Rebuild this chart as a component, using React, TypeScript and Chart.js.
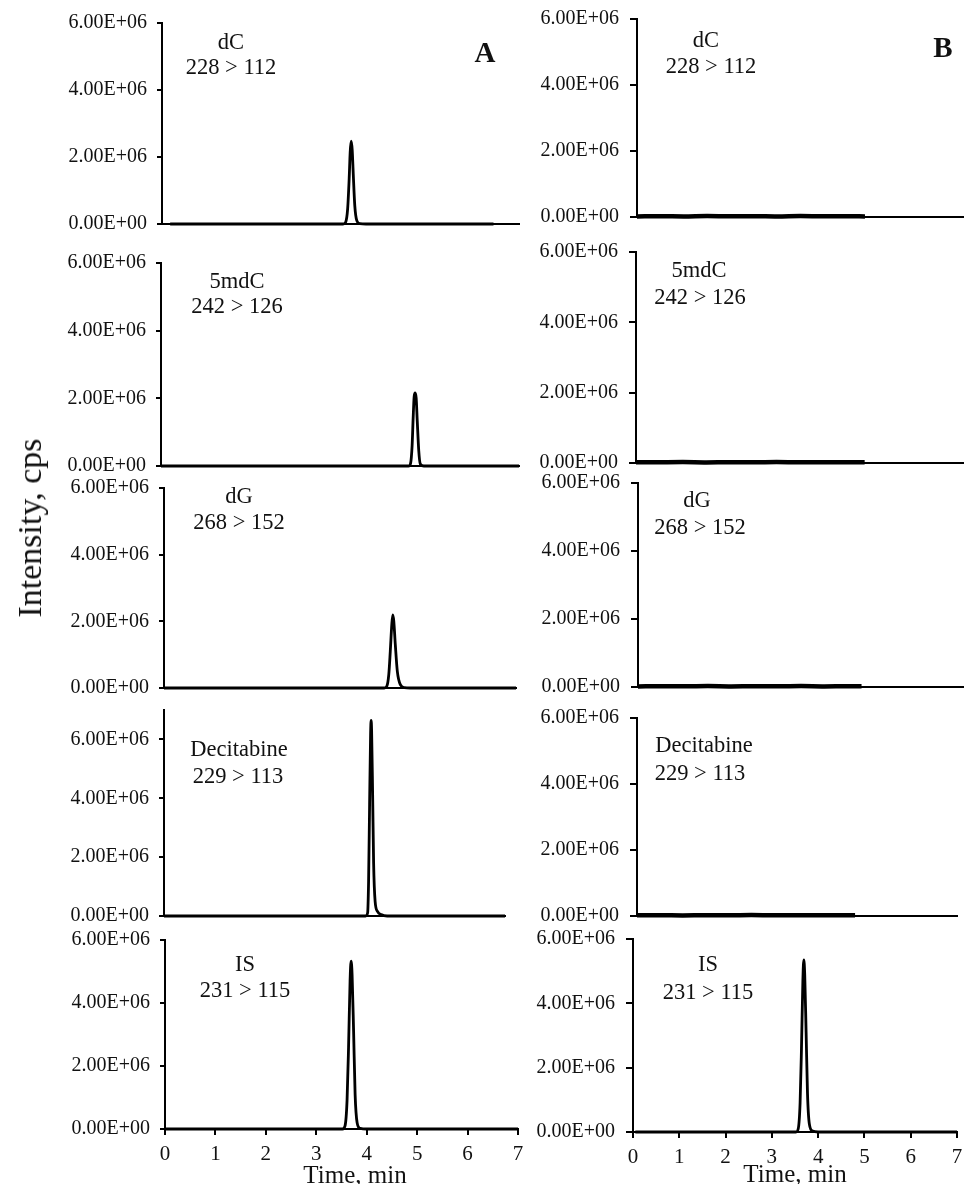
import React, { useEffect, useRef } from 'react';
import { Chart, registerables } from 'chart.js';

Chart.register(...registerables);

const FONT = "'Liberation Serif', 'Times New Roman', serif";

// ---------- Data (time in min, intensity in cps) ----------
const compounds = ['dC', '5mdC', 'dG', 'Decitabine', 'IS'];
const transitions = ['228 > 112', '242 > 126', '268 > 152', '229 > 113', '231 > 115'];
const xTickValues = [0, 1, 2, 3, 4, 5, 6, 7];
const yTickValues = [0, 2000000, 4000000, 6000000];

// Column A
const dC_A_time = [0.16, 3.55, 3.6, 3.64, 3.67, 3.69, 3.71, 3.73, 3.75, 3.78, 3.82, 3.88, 4.0, 6.5];
const dC_A_int = [0, 0, 50000, 450000, 1350000, 2150000, 2470000, 2200000, 1500000, 550000, 100000, 10000, 0, 0];

const mdC_A_time = [0.0, 4.84, 4.88, 4.91, 4.93, 4.95, 4.97, 4.99, 5.01, 5.04, 5.07, 5.14, 7.0];
const mdC_A_int = [0, 0, 80000, 600000, 1400000, 2050000, 2160000, 2000000, 1350000, 450000, 60000, 0, 0];

const dG_A_time = [0.0, 4.38, 4.43, 4.47, 4.5, 4.53, 4.55, 4.57, 4.6, 4.64, 4.7, 4.78, 4.9, 7.0];
const dG_A_int = [0, 0, 50000, 400000, 1100000, 1900000, 2190000, 2000000, 1300000, 500000, 100000, 10000, 0, 0];

const dec_A_time = [0.0, 4.02, 4.06, 4.08, 4.1, 4.12, 4.13, 4.14, 4.16, 4.18, 4.21, 4.26, 4.33, 4.45, 6.8];
const dec_A_int = [0, 0, 100000, 1200000, 3800000, 6200000, 6650000, 6300000, 4200000, 1800000, 500000, 150000, 50000, 0, 0];

const is_A_time = [0.0, 3.52, 3.57, 3.61, 3.64, 3.67, 3.69, 3.71, 3.74, 3.77, 3.81, 3.87, 4.0, 7.0];
const is_A_int = [0, 0, 100000, 900000, 2600000, 4700000, 5330000, 4900000, 3100000, 1100000, 200000, 20000, 0, 0];

// Column B (blank sample: only baseline noise, IS peak)
const dC_B_time = [0.0, 0.5, 1.0, 1.5, 2.0, 2.5, 3.0, 3.5, 4.0, 4.5, 4.88];
const dC_B_int = [15000, 25000, 18000, 30000, 20000, 26000, 17000, 28000, 21000, 24000, 16000];

const mdC_B_time = [0.0, 0.5, 1.0, 1.5, 2.0, 2.5, 3.0, 3.5, 4.0, 4.5, 4.88];
const mdC_B_int = [18000, 22000, 26000, 17000, 24000, 20000, 27000, 19000, 23000, 21000, 18000];

const dG_B_time = [0.0, 0.5, 1.0, 1.5, 2.0, 2.5, 3.0, 3.5, 4.0, 4.5, 4.8];
const dG_B_int = [16000, 24000, 20000, 27000, 18000, 25000, 21000, 26000, 17000, 23000, 19000];

const dec_B_time = [0.0, 0.5, 1.0, 1.5, 2.0, 2.5, 3.0, 3.5, 4.0, 4.5, 4.77];
const dec_B_int = [20000, 26000, 18000, 24000, 22000, 28000, 19000, 25000, 21000, 23000, 20000];

const is_B_time = [0.05, 3.52, 3.57, 3.61, 3.64, 3.67, 3.69, 3.71, 3.74, 3.77, 3.81, 3.88, 4.0, 7.0];
const is_B_int = [0, 0, 100000, 900000, 2600000, 4700000, 5350000, 4900000, 3100000, 1200000, 250000, 30000, 0, 0];

// ---------- Layout (page pixels) ----------
type PanelCfg = {
  col: 'A' | 'B';
  time: number[];
  intensity: number[];
  lineWidth: number;
  axisX: number;
  right: number;
  top: number;
  zero: number;
  xMax: number;
  yMax: number;
  showX: boolean;
};

const panels: PanelCfg[] = [
  { col: 'A', time: dC_A_time, intensity: dC_A_int, lineWidth: 2.8, axisX: 162, right: 519, top: 23, zero: 224, xMax: 7, yMax: 6000000, showX: false },
  { col: 'A', time: mdC_A_time, intensity: mdC_A_int, lineWidth: 2.8, axisX: 161, right: 519, top: 263, zero: 466, xMax: 7, yMax: 6000000, showX: false },
  { col: 'A', time: dG_A_time, intensity: dG_A_int, lineWidth: 2.8, axisX: 164, right: 516, top: 488, zero: 688, xMax: 7, yMax: 6000000, showX: false },
  { col: 'A', time: dec_A_time, intensity: dec_A_int, lineWidth: 2.8, axisX: 164, right: 505, top: 710, zero: 916, xMax: 6.8, yMax: 7000000, showX: false },
  { col: 'A', time: is_A_time, intensity: is_A_int, lineWidth: 2.8, axisX: 165, right: 518, top: 940, zero: 1129, xMax: 7, yMax: 6000000, showX: true },
  { col: 'B', time: dC_B_time, intensity: dC_B_int, lineWidth: 4.5, axisX: 637, right: 964, top: 19, zero: 217, xMax: 7, yMax: 6000000, showX: false },
  { col: 'B', time: mdC_B_time, intensity: mdC_B_int, lineWidth: 4.5, axisX: 636, right: 964, top: 252, zero: 463, xMax: 7, yMax: 6000000, showX: false },
  { col: 'B', time: dG_B_time, intensity: dG_B_int, lineWidth: 4.5, axisX: 638, right: 964, top: 483, zero: 687, xMax: 7, yMax: 6000000, showX: false },
  { col: 'B', time: dec_B_time, intensity: dec_B_int, lineWidth: 4.5, axisX: 637, right: 957, top: 718, zero: 916, xMax: 7, yMax: 6000000, showX: false },
  { col: 'B', time: is_B_time, intensity: is_B_int, lineWidth: 2.8, axisX: 633, right: 957, top: 939, zero: 1132, xMax: 7, yMax: 6000000, showX: true },
];

// label positions: [x line1, y line1, x line2, y line2]
const labelPos: number[][] = [
  [231, 42, 231, 67],
  [237, 281, 237, 306],
  [239, 496, 239, 522],
  [239, 749, 238, 776],
  [245, 964, 245, 990],
  [706, 40, 711, 66],
  [699, 270, 700, 297],
  [697, 500, 700, 527],
  [704, 745, 700, 773],
  [708, 964, 708, 992],
];

function sci(v: number): string {
  if (v === 0) return '0.00E+00';
  const e = Math.floor(Math.log10(Math.abs(v)) + 1e-9);
  const m = v / Math.pow(10, e);
  return m.toFixed(2) + 'E' + (e < 0 ? '-' : '+') + String(Math.abs(e)).padStart(2, '0');
}

const Yw = 120;
const padT = 30;
const padR = 14;
const padB = 30;

function Panel({ cfg }: { cfg: PanelCfg }) {
  const ref = useRef<HTMLCanvasElement>(null);
  const Xh = cfg.showX ? 50 : 2;
  const width = Yw + (cfg.right - cfg.axisX) + padR;
  const height = padT + (cfg.zero - cfg.top) + Xh + padB;
  const left = cfg.axisX - Yw;
  const top = cfg.top - padT;
  const tickLen = cfg.col === 'A' ? 5 : 7;

  useEffect(() => {
    if (!ref.current) return;
    const chart = new Chart(ref.current, {
      type: 'line',
      data: {
        datasets: [
          {
            data: cfg.time.map((t, i) => ({ x: t, y: cfg.intensity[i] })),
            borderColor: '#000',
            borderWidth: cfg.lineWidth,
            pointRadius: 0,
            fill: false,
            cubicInterpolationMode: 'monotone',
            clip: false as any,
          },
        ],
      },
      options: {
        animation: false,
        responsive: false,
        maintainAspectRatio: false,
        devicePixelRatio: 1,
        events: [],
        layout: { padding: { left: 0, top: padT, right: padR, bottom: padB } },
        plugins: { legend: { display: false }, tooltip: { enabled: false } },
        scales: {
          x: {
            type: 'linear',
            min: 0,
            max: cfg.xMax,
            afterFit: (s: any) => {
              s.height = Xh;
            },
            afterBuildTicks: (s: any) => {
              s.ticks = xTickValues.filter((v) => v <= cfg.xMax).map((v) => ({ value: v }));
            },
            ticks: {
              display: cfg.showX,
              color: '#111',
              padding: 7,
              maxRotation: 0,
              autoSkip: false,
              font: { family: FONT, size: 21 },
            },
            grid: {
              display: cfg.showX,
              drawOnChartArea: false,
              drawTicks: true,
              tickLength: 6,
              color: '#000',
              lineWidth: 2,
            },
            border: { display: true, color: '#000', width: 2 },
          },
          y: {
            type: 'linear',
            min: 0,
            max: cfg.yMax,
            afterFit: (s: any) => {
              s.width = Yw;
            },
            afterBuildTicks: (s: any) => {
              s.ticks = yTickValues.filter((v) => v <= cfg.yMax).map((v) => ({ value: v }));
            },
            ticks: {
              color: '#111',
              padding: cfg.col === 'A' ? 10 : 11,
              font: { family: FONT, size: 20 },
              callback: (v: any) => sci(Number(v)),
            },
            grid: {
              display: true,
              drawOnChartArea: false,
              drawTicks: true,
              tickLength: tickLen,
              color: '#000',
              lineWidth: 2,
            },
            border: { display: true, color: '#000', width: 2 },
          },
        },
      } as any,
    });
    return () => chart.destroy();
  }, []);

  return (
    <canvas
      ref={ref}
      width={width}
      height={height}
      style={{ position: 'absolute', left, top, width, height }}
    />
  );
}

const textStyle = (x: number, y: number, size: number, bold = false): React.CSSProperties => ({
  position: 'absolute',
  left: x,
  top: y,
  transform: 'translate(-50%, -50%)',
  fontFamily: FONT,
  fontSize: size,
  fontWeight: bold ? 'bold' : 'normal',
  lineHeight: 1,
  whiteSpace: 'nowrap',
  color: '#111',
});

export default function App() {
  return (
    <div
      style={{
        position: 'absolute',
        left: 0,
        top: 0,
        width: 964,
        height: 1184,
        overflow: 'hidden',
        background: '#fff',
      }}
    >
      {panels.map((p, i) => (
        <Panel key={i} cfg={p} />
      ))}
      {panels.map((p, i) => {
        const lp = labelPos[i];
        const k = i % 5;
        return (
          <React.Fragment key={'l' + i}>
            <div style={textStyle(lp[0], lp[1], 22.5)}>{compounds[k]}</div>
            <div style={textStyle(lp[2], lp[3], 22.5)}>{transitions[k]}</div>
          </React.Fragment>
        );
      })}
      <div style={textStyle(485, 52, 29, true)}>A</div>
      <div style={textStyle(943, 47, 29, true)}>B</div>
      <div style={textStyle(355, 1174, 25)}>Time, min</div>
      <div style={textStyle(795, 1173, 25)}>Time, min</div>
      <div style={{ ...textStyle(30, 528, 34), transform: 'translate(-50%, -50%) rotate(-90deg)' }}>
        Intensity, cps
      </div>
    </div>
  );
}
